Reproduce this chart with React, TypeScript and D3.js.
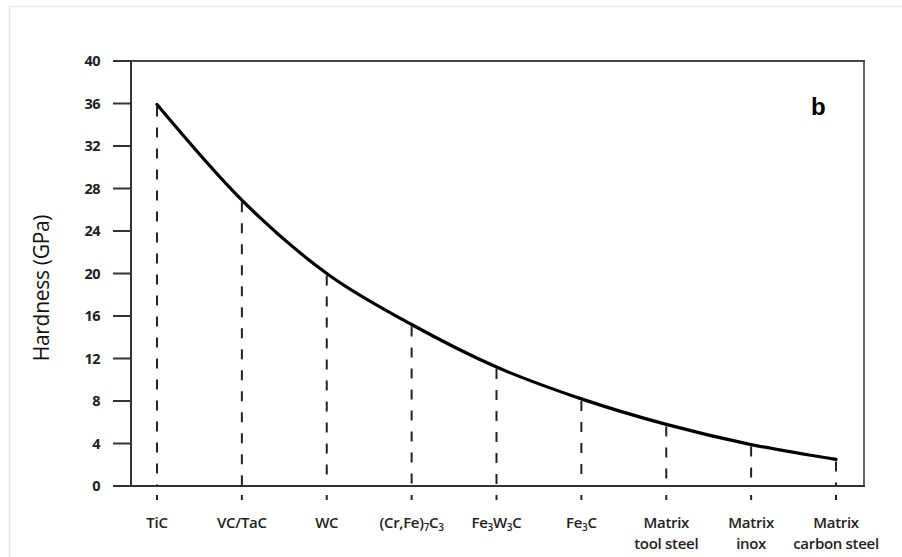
import React from "react";
import * as d3 from "d3";

const categories = ["TiC", "VC/TaC", "WC", "(Cr,Fe)7C3", "Fe3W3C", "Fe3C", "Matrix tool steel", "Matrix inox", "Matrix carbon steel"];
const hardness = [35.9, 26.9, 20.0, 15.2, 11.2, 8.2, 5.8, 3.9, 2.5];
const yTicks = [0, 4, 8, 12, 16, 20, 24, 28, 32, 36, 40];

const W = 902, H = 557;
const left = 131, right = 864, top = 61, bottom = 486;
const FONT = "'Open Sans', 'Noto Sans', sans-serif";

function CatLabel({ name, x }: { name: string; x: number }) {
  const base = { fontFamily: FONT, fontSize: 15, fontWeight: 600, fill: "#222", textAnchor: "middle" as const, letterSpacing: -0.3 };
  const y1 = 528;
  const sub = 10;
  if (name === "(Cr,Fe)7C3") {
    return (
      <text x={x} y={y1} {...base}>
        (Cr,Fe)<tspan fontSize={sub} dy={3}>7</tspan><tspan dy={-3}>C</tspan><tspan fontSize={sub} dy={3}>3</tspan>
      </text>
    );
  }
  if (name === "Fe3W3C") {
    return (
      <text x={x} y={y1} {...base}>
        Fe<tspan fontSize={sub} dy={3}>3</tspan><tspan dy={-3}>W</tspan><tspan fontSize={sub} dy={3}>3</tspan><tspan dy={-3}>C</tspan>
      </text>
    );
  }
  if (name === "Fe3C") {
    return (
      <text x={x} y={y1} {...base}>
        Fe<tspan fontSize={sub} dy={3}>3</tspan><tspan dy={-3}>C</tspan>
      </text>
    );
  }
  if (name.startsWith("Matrix")) {
    const rest = name.slice(7);
    return (
      <g>
        <text x={x} y={y1} {...base}>Matrix</text>
        <text x={x} y={y1 + 21} {...base}>{rest}</text>
      </g>
    );
  }
  return <text x={x} y={y1} {...base}>{name}</text>;
}

export default function App() {
  const x = d3.scalePoint<string>().domain(categories).range([157, 836]);
  const y = d3.scaleLinear().domain([0, 40]).range([bottom, top]);
  const line = d3
    .line<number>()
    .x((_, i) => x(categories[i]) as number)
    .y((d) => y(d))
    .curve(d3.curveMonotoneX);
  const tickFont = { fontFamily: FONT, fontSize: 14.5, fontWeight: 700, fill: "#222" };
  return (
    <svg width={W} height={H} style={{ position: "absolute", left: 0, top: 0, background: "#fff" }}>
      <rect x={9.5} y={6.5} width={W + 10} height={H + 10} fill="none" stroke="#e6e6e6" strokeWidth={1.5} />
      <line x1={right} y1={top} x2={right} y2={bottom} stroke="#666" strokeWidth={2} />
      <line x1={113} y1={top} x2={right + 1} y2={top} stroke="#444" strokeWidth={2} />
      <line x1={113} y1={bottom} x2={right + 1} y2={bottom} stroke="#333" strokeWidth={2} />
      <line x1={left} y1={top} x2={left} y2={bottom} stroke="#333" strokeWidth={2} />
      {yTicks.map((t) => (
        <g key={t}>
          <line x1={113} x2={left} y1={y(t)} y2={y(t)} stroke="#333" strokeWidth={2} />
          <text x={100} y={y(t)} dy="0.35em" textAnchor="end" {...tickFont} letterSpacing={-0.5}>{t}</text>
        </g>
      ))}
      {categories.map((c, i) => (
        <g key={c}>
          <line x1={x(c)} x2={x(c)} y1={y(hardness[i]) + 2} y2={bottom} stroke="#222" strokeWidth={2} strokeDasharray="10,11" />
          <line x1={x(c)} x2={x(c)} y1={495} y2={500} stroke="#222" strokeWidth={2} />
          <CatLabel name={c} x={x(c) as number} />
        </g>
      ))}
      <path d={line(hardness) || ""} fill="none" stroke="#000" strokeWidth={3.2} strokeLinecap="round" />
      <text x={49} y={288} transform="rotate(-90 49 288)" textAnchor="middle" fontFamily={FONT} fontSize={21} fill="#111" letterSpacing={-0.3}>Hardness (GPa)</text>
      <text x={811} y={115} fontFamily="'Liberation Sans', Arial, sans-serif" fontSize={24} fontWeight={700} fill="#000">b</text>
    </svg>
  );
}
